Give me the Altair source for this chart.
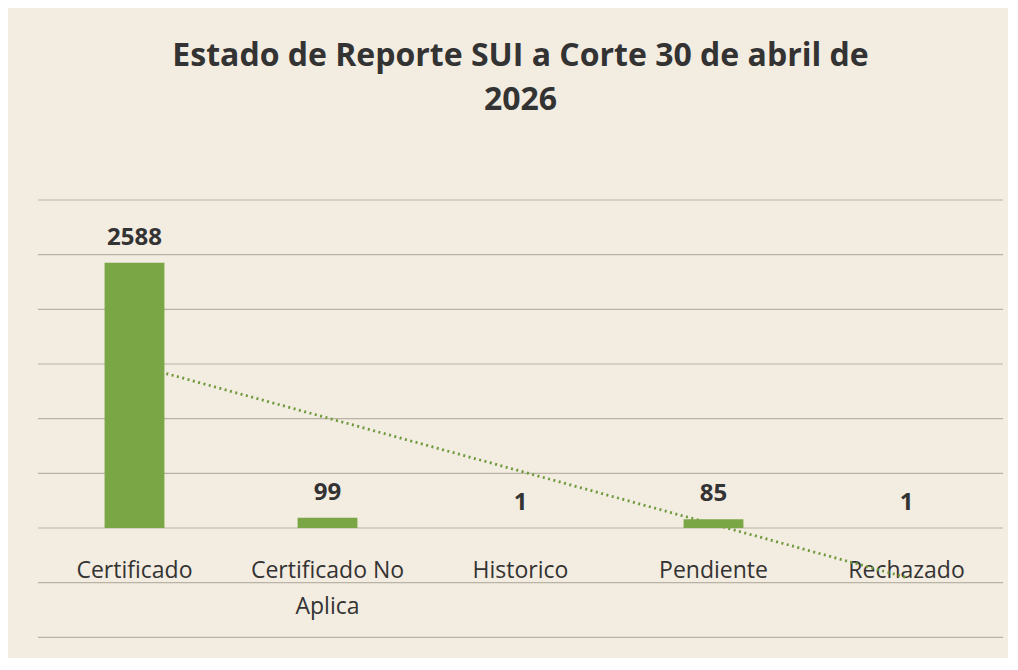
import altair as alt
import pandas as pd

categorias = ["Certificado", "Certificado No Aplica", "Historico", "Pendiente", "Rechazado"]
valores = [2588, 99, 1, 85, 1]
indices = [1, 2, 3, 4, 5]
grid_values = [-1066.67, -533.33, 0, 533.33, 1066.67, 1600, 2133.33, 2666.67, 3200]

df = pd.DataFrame({"Categoria": categorias, "Valor": valores, "idx": indices})
grid_df = pd.DataFrame({"g": grid_values})

GREEN = "#7ba646"
TEXT = "#333333"
FONT = "Open Sans"

xscale = alt.Scale(domain=categorias, paddingInner=0.69, paddingOuter=0.345)
xenc = alt.X(
    "Categoria:N",
    scale=xscale,
    axis=alt.Axis(
        title=None, labelAngle=0, domain=False, ticks=False,
        labelFontSize=23, labelColor=TEXT, labelFont=FONT,
        labelPadding=31, labelLineHeight=36, labelBaseline="top",
        labelExpr="datum.label == 'Certificado No Aplica' ? ['Certificado No', 'Aplica'] : datum.label",
    ),
)
yscale = alt.Scale(domain=[0, 3200], nice=False, zero=True)
yenc = alt.Y("Valor:Q", scale=yscale, axis=None)

cat_expr = "['" + "','".join(categorias) + "'][round(datum.idx) - 1]"

grid = alt.Chart(grid_df).mark_rule(color="#b9b2a6", strokeWidth=1.2, clip=False).encode(
    y=alt.Y("g:Q", scale=yscale, axis=None)
)

trend = alt.Chart(df).transform_regression(
    "idx", "Valor", method="linear", extent=[1, 5]
).transform_calculate(
    Categoria=cat_expr
).mark_line(
    color="#6f9a3c", strokeWidth=2.8, strokeDash=[2, 3.5], clip=False
).encode(
    x=xenc,
    y=yenc,
)

bars = alt.Chart(df).mark_bar(color=GREEN).encode(x=xenc, y=yenc)

labels = alt.Chart(df).mark_text(
    dy=-18, baseline="alphabetic", fontSize=24, fontWeight="bold", color=TEXT, font=FONT
).encode(
    x=xenc,
    y=yenc,
    text="Valor:Q",
)

chart = alt.layer(grid, trend, bars, labels).resolve_scale(y="shared").properties(
    width=965,
    height=328,
    autosize=alt.AutoSizeParams(type="none"),
    padding={"left": 30, "top": 192, "right": 5, "bottom": 130},
    background="#f3ece1",
    title=alt.TitleParams(
        text=["Estado de Reporte SUI a Corte 30 de abril de", "2026"],
        fontSize=32, font=FONT, fontWeight="bold", color=TEXT,
        anchor="middle", lineHeight=44, offset=82,
    ),
).configure_view(stroke=None)

chart.save("out.html", embed_options={"renderer": "svg", "actions": False})
